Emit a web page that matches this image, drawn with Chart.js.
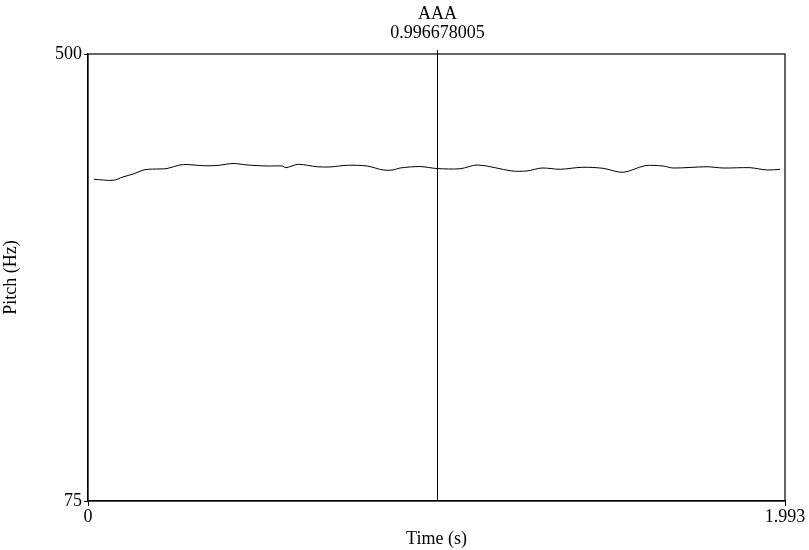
<!DOCTYPE html>
<html>
<head>
<meta charset="utf-8">
<script src="https://cdn.jsdelivr.net/npm/chart.js@4"></script>
<style>
  html, body { margin: 0; padding: 0; background: #fff; }
  #wrap { width: 809px; height: 550px; position: relative; }
</style>
</head>
<body>
<div id="wrap"><canvas id="pitch-chart"></canvas></div>
<script>
// Pitch contour (Praat style)
const times = [0.017, 0.072, 0.100, 0.129, 0.163, 0.206, 0.226, 0.263, 0.283, 0.329,
    0.369, 0.415, 0.455, 0.512, 0.555, 0.566, 0.601, 0.655, 0.692, 0.741,
    0.798, 0.844, 0.872, 0.892, 0.949, 0.998, 1.064, 1.115, 1.212, 1.255,
    1.298, 1.350, 1.413, 1.473, 1.530, 1.593, 1.644, 1.673, 1.770, 1.816,
    1.893, 1.942, 1.979];
const pitch = [380.9, 379.9, 383.1, 385.9, 390.0, 390.7, 391.1, 394.5, 394.9, 393.8,
    394.0, 395.9, 394.5, 393.5, 393.5, 391.9, 395.1, 392.8, 392.6, 394.2,
    393.5, 389.7, 389.7, 391.6, 393.0, 391.1, 390.9, 394.5, 388.8, 388.8,
    391.6, 390.4, 392.3, 391.3, 387.5, 393.8, 393.5, 391.6, 392.8, 391.6,
    391.9, 389.7, 390.4];

const xTicks = [0, 1.993];
const xTickLabels = ['0', '1.993'];
const yTicks = [75, 500];
const yTickLabels = ['75', '500'];

const cursorTime = 0.996678005;
const cursorLabels = ['AAA', '0.996678005'];

const FONT = "'Liberation Serif', 'Times New Roman', serif";

// frame + cursor line + cursor labels
const praatDecor = {
    id: 'praatDecor',
    afterDraw(chart) {
        const { ctx, chartArea, scales } = chart;
        ctx.save();
        ctx.strokeStyle = '#000';
        ctx.lineWidth = 1.2;
        ctx.strokeRect(chartArea.left, chartArea.top,
            chartArea.right - chartArea.left, chartArea.bottom - chartArea.top);

        const cx = Math.round(scales.x.getPixelForValue(cursorTime)) + 0.5;
        ctx.lineWidth = 1;
        ctx.beginPath();
        ctx.moveTo(cx, chartArea.top - 4);
        ctx.lineTo(cx, chartArea.bottom);
        ctx.stroke();

        ctx.fillStyle = '#000';
        ctx.font = '18px ' + FONT;
        ctx.textAlign = 'center';
        ctx.textBaseline = 'middle';
        ctx.fillText(cursorLabels[0], cx, 14);
        ctx.fillText(cursorLabels[1], cx, 33);
        ctx.restore();
    }
};

const ctx = document.getElementById('pitch-chart').getContext('2d');
new Chart(ctx, {
    type: 'line',
    data: {
        datasets: [{
            label: 'Pitch',
            data: times.map((t, i) => ({ x: t, y: pitch[i] })),
            borderColor: '#000',
            borderWidth: 1,
            pointRadius: 0,
            tension: 0.3,
            fill: false
        }]
    },
    options: {
        responsive: true,
        maintainAspectRatio: false,
        animation: false,
        layout: { padding: { top: 54, right: 24, left: 0, bottom: 0 } },
        plugins: {
            legend: { display: false },
            tooltip: { enabled: false }
        },
        scales: {
            x: {
                type: 'linear',
                min: 0,
                max: 1.993,
                afterBuildTicks: (s) => { s.ticks = xTicks.map(v => ({ value: v })); },
                afterFit: (s) => { s.height = 49; },
                ticks: {
                    color: '#000',
                    font: { family: FONT, size: 18 },
                    padding: 0,
                    maxRotation: 0,
                    autoSkip: false,
                    callback: (v, i) => xTickLabels[i]
                },
                grid: { drawOnChartArea: false, drawTicks: true, tickLength: 5, color: '#000' },
                border: { color: '#000', width: 1.2 },
                title: {
                    display: true,
                    text: 'Time (s)',
                    color: '#000',
                    font: { family: FONT, size: 18 },
                    padding: { top: 0, bottom: 0 }
                }
            },
            y: {
                type: 'linear',
                min: 75,
                max: 500,
                afterBuildTicks: (s) => { s.ticks = yTicks.map(v => ({ value: v })); },
                afterFit: (s) => { s.width = 88; },
                ticks: {
                    color: '#000',
                    font: { family: FONT, size: 18 },
                    padding: 2,
                    autoSkip: false,
                    callback: (v, i) => yTickLabels[i]
                },
                grid: { drawOnChartArea: false, drawTicks: true, tickLength: 4, color: '#000' },
                border: { color: '#000', width: 1.2 },
                title: {
                    display: true,
                    text: 'Pitch (Hz)',
                    color: '#000',
                    font: { family: FONT, size: 18 },
                    padding: { top: 0, bottom: 0 }
                }
            }
        }
    },
    plugins: [praatDecor]
});
</script>
</body>
</html>
